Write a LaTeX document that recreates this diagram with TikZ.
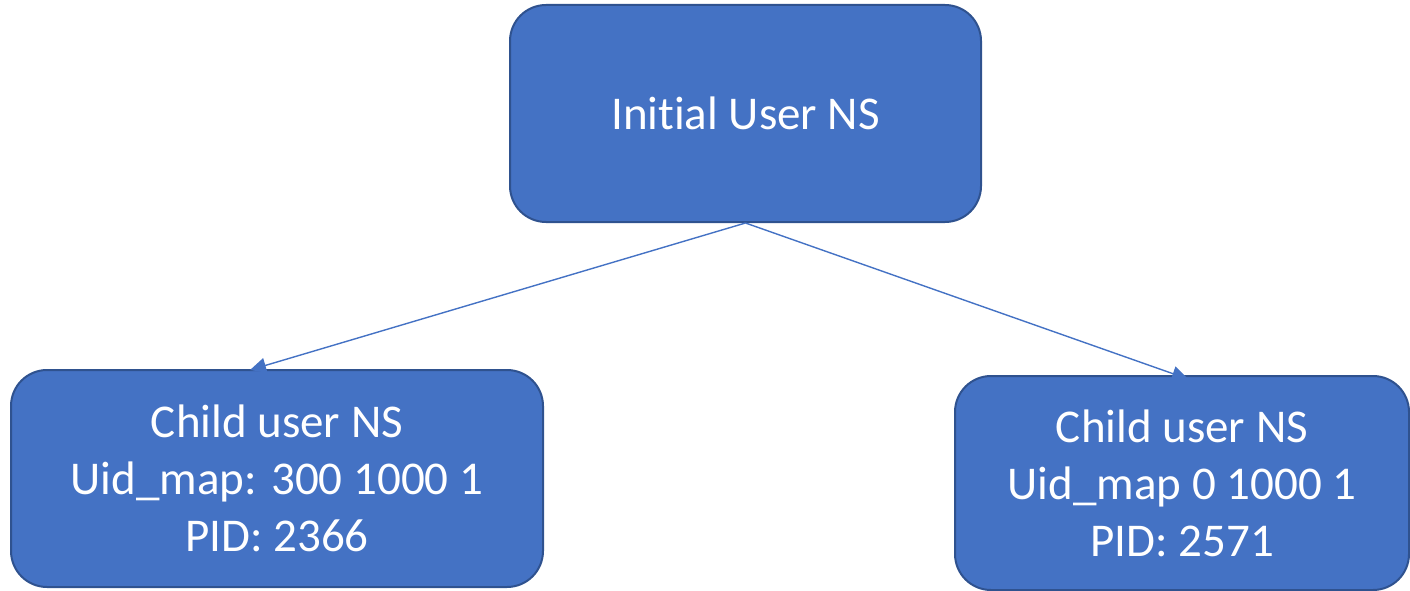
\documentclass[tikz,border=0pt]{standalone}
\usepackage{fontspec}
\setmainfont[Ligatures=CommonOff]{Carlito}
\usetikzlibrary{arrows.meta}
\definecolor{boxfill}{HTML}{4472C4}
\definecolor{boxline}{HTML}{2F528F}
\tikzset{
  nsbox/.style={draw=boxline, line width=2pt, fill=boxfill, rounded corners=36pt,
    text=white, align=center, inner sep=0pt,
    font=\fontsize{47}{57}\selectfont},
  link/.style={draw=boxfill, line width=1.4pt,
    -{Triangle[length=16pt,width=15pt]}}
}
\begin{document}
\begin{tikzpicture}[x=1pt,y=-1pt]
  \useasboundingbox (0,0) rectangle (1410,591);
  \node[nsbox, minimum width=471pt, minimum height=217pt] (root) at (745.5,113.5)
    {Initial User NS};
  \node[nsbox, minimum width=532pt, minimum height=217pt] (c1) at (277,478.5)
    {Child user NS\\Uid\_map: 300 1000 1\\PID: 2366};
  \node[nsbox, minimum width=454pt, minimum height=214pt] (c2) at (1182,483)
    {Child user NS\\Uid\_map 0 1000 1\\PID: 2571};
  \draw[link] (root.south) -- ([xshift=-27pt,yshift=-1pt]c1.north);
  \draw[link] (root.south) -- ([xshift=6pt,yshift=-4pt]c2.north);
\end{tikzpicture}
\end{document}
